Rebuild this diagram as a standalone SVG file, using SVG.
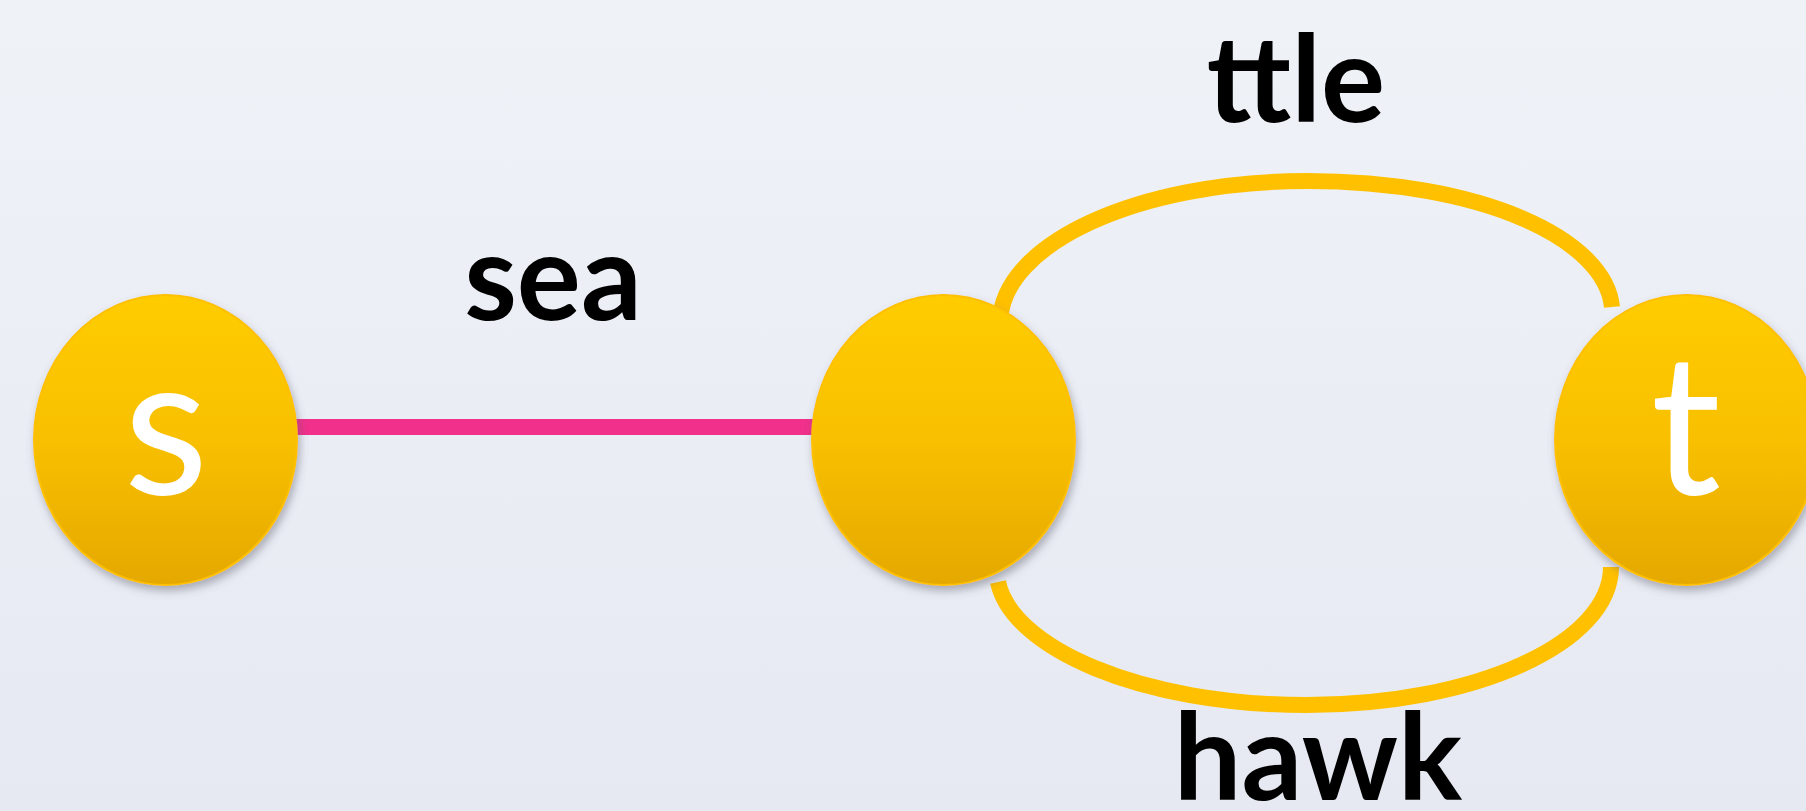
<svg xmlns="http://www.w3.org/2000/svg" width="1806" height="811" viewBox="0 0 1806 811">
  <defs>
    <linearGradient id="bg" x1="0" y1="0" x2="0" y2="1">
      <stop offset="0" stop-color="#eff2f7"/>
      <stop offset="1" stop-color="#e6e9f1"/>
    </linearGradient>
    <linearGradient id="nodeFill" x1="0" y1="0" x2="0" y2="1">
      <stop offset="0" stop-color="#ffcc00"/>
      <stop offset="0.5" stop-color="#f8c000"/>
      <stop offset="1" stop-color="#e5a800"/>
    </linearGradient>
    <filter id="shadow" x="-20%" y="-20%" width="140%" height="140%">
      <feDropShadow dx="2" dy="5" stdDeviation="4" flood-color="#5a5a6a" flood-opacity="0.45"/>
    </filter>
  </defs>
  <style>
    .node { fill: url(#nodeFill); stroke: #ffc000; stroke-width: 2; filter: url(#shadow); }
    .nodeText { font-family: Lato, "Open Sans", sans-serif; font-size: 196px; fill: #ffffff; text-anchor: middle; }
    .label { font-family: Lato, "Open Sans", sans-serif; font-weight: bold; font-size: 120px; fill: #000000; text-anchor: middle; }
    .edgePink { stroke: #f0308a; stroke-width: 16; fill: none; }
    .edgeGold { stroke: #ffc000; stroke-width: 16; fill: none; }
  </style>
  <rect x="0" y="0" width="1806" height="811" fill="url(#bg)"/>
  <g id="connectors">
    <line class="edgePink" x1="296" y1="427" x2="813" y2="427"/>
    <path class="edgeGold" d="M 1000 322 C 1002 244, 1137 181, 1307 181 C 1480 181, 1605 238, 1612 307"/>
    <path class="edgeGold" d="M 998 582 C 1012 648, 1140 705, 1307 705 C 1475 705, 1611 643, 1611 567"/>
  </g>
  <g id="label-sea"><text class="label" x="553" y="320">sea</text></g>
  <g id="label-ttle"><text class="label" x="1296" y="122">ttle</text></g>
  <g id="label-hawk"><text class="label" x="1318" y="800">hawk</text></g>
  <g id="node-s">
    <ellipse class="node" cx="165.5" cy="440" rx="131.5" ry="145"/>
    <text class="nodeText" x="166" y="494">s</text>
  </g>
  <g id="node-mid">
    <ellipse class="node" cx="943.5" cy="440" rx="131.5" ry="145"/>
  </g>
  <g id="node-t">
    <ellipse class="node" cx="1686.5" cy="440" rx="131.5" ry="145"/>
    <text class="nodeText" x="1686" y="494">t</text>
  </g>
</svg>
